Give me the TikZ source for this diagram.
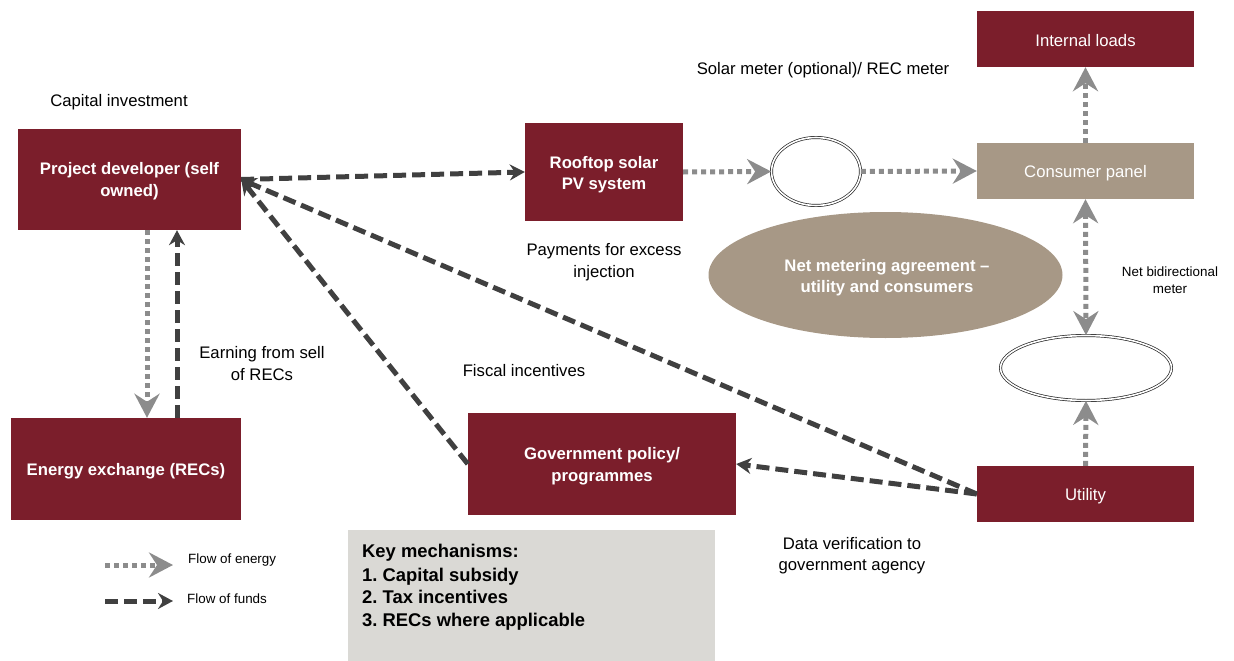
\documentclass[tikz,border=0pt]{standalone}
\usepackage{fontspec}
\setmainfont{Liberation Sans}
\usetikzlibrary{arrows.meta,shapes.geometric,calc}
\definecolor{boxred}{RGB}{123,30,43}
\definecolor{mytan}{RGB}{167,152,134}
\definecolor{keygray}{RGB}{218,217,213}
\definecolor{fundscol}{RGB}{64,64,64}
\definecolor{energycol}{RGB}{140,140,140}
\frenchspacing
\begin{document}
\begin{tikzpicture}[x=1pt,y=-1pt,
  etip/.tip={Stealth[length=24pt,width=25pt,inset=8pt]},
  ftip/.tip={Stealth[length=15pt,width=16pt,inset=5pt]},
  lbl/.style={font=\fontsize{16.7}{21.5}\selectfont, align=center, inner sep=0pt, yshift=-1.5pt},
  smalllbl/.style={font=\fontsize{13.4}{17}\selectfont, align=center, inner sep=0pt},
  box/.style={fill=boxred, text=white, inner sep=0pt, align=center, font=\fontsize{16.7}{21.5}\selectfont, text height=21.5pt, text depth=0pt},
  bbox/.style={box, font=\bfseries\fontsize{16.7}{21.5}\selectfont},
  panel/.style={box, fill=mytan},
  meter/.style={ellipse, draw=black!85, double=white, double distance=1.6pt, line width=0.7pt, inner sep=0pt},
  fundsline/.style={draw=fundscol, line width=5pt, dash pattern=on 13pt off 6pt, -ftip},
  energyline/.style={draw=energycol, line width=5pt, dash pattern=on 5pt off 4pt, -etip},
  keytxt/.style={font=\bfseries\fontsize{18.4}{23}\selectfont, anchor=base west, inner sep=0pt}
]
\useasboundingbox (0,0) rectangle (1234,661);

% boxes
\node[fill=boxred, minimum width=223, minimum height=101, inner sep=0pt] (pd) at (129.5,179.5) {};
\node[fill=boxred, minimum width=158, minimum height=98, inner sep=0pt] (roof) at (604,172) {};
\node[fill=boxred, minimum width=217, minimum height=56, inner sep=0pt] (il) at (1085.5,39) {};
\node[fill=mytan, minimum width=217, minimum height=56, inner sep=0pt] (cp) at (1085.5,171) {};
\node[fill=boxred, minimum width=217, minimum height=56, inner sep=0pt] (ut) at (1085.5,494) {};
\node[fill=boxred, minimum width=268, minimum height=102, inner sep=0pt] (gov) at (602,464) {};
\node[fill=boxred, minimum width=230, minimum height=102, inner sep=0pt] (ex) at (126,469) {};

% box texts
\tikzset{boxtxt/.style={text=white, align=center, inner sep=0pt, font=\fontsize{16.7}{21.5}\selectfont},
         bboxtxt/.style={boxtxt, font=\bfseries\fontsize{16.7}{21.5}\selectfont}}
\node[bboxtxt] (pdt) at ($(pd.center)+(0,1.5)$) {Project developer (self\\owned)};
\node[bboxtxt] (rooft) at ($(roof.center)+(0,2.5)$) {Rooftop solar\\PV system};
\node[boxtxt] (ilt) at ($(il.center)+(0,2)$) {Internal loads};
\node[boxtxt] (cpt) at ($(cp.center)+(0,2.5)$) {Consumer panel};
\node[boxtxt] (utt) at ($(ut.center)+(0,2)$) {Utility};
\node[bboxtxt] (govt) at ($(gov.center)+(0,2)$) {Government policy/\\programmes};
\node[bboxtxt] (ext) at ($(ex.center)+(0,2.5)$) {Energy exchange (RECs)};

% ellipses
\node[meter, minimum width=89, minimum height=68] (m1) at (816,171.5) {};
\node[meter, minimum width=171, minimum height=65] (m2) at (1086,368) {};
\node[ellipse, fill=mytan, inner sep=0pt, minimum width=354, minimum height=126] (nm) at (885.5,275) {};
\node[bboxtxt] (nmt) at ($(nm.center)+(1.5,2.5)$) {Net metering agreement --\\utility and consumers};

% key box
\node[fill=keygray, minimum width=367, minimum height=131, anchor=north west, inner sep=0pt] (keybox) at (348,530) {};
\node[keytxt] (key1) at (362,557) {Key mechanisms:};
\node[keytxt] (key2) at (362,581) {1. Capital subsidy};
\node[keytxt] (key3) at (362,603) {2. Tax incentives};
\node[keytxt] (key4) at (362,626) {3. RECs where applicable};

% labels
\node[lbl] (capinv) at (119,101) {Capital investment};
\node[lbl] (solarm) at (823,69) {Solar meter (optional)/ REC meter};
\node[lbl] (payex) at (604,260.5) {Payments for excess\\injection};
\node[smalllbl] (netbi) at (1170,280) {Net bidirectional\\meter};
\node[lbl] (earn) at (262,362) {Earning from sell\\of RECs};
\node[lbl] (fiscal) at (524,369) {Fiscal incentives};
\node[lbl] (dataver) at (852,554) {Data verification to\\government agency};

% connectors
\draw[fundsline] (pd.east) -- (roof.west);
\draw[energyline] (roof.east) -- (m1.west);
\draw[energyline] (m1.east) -- (cp.west);
\draw[energyline] (cp.north) -- (il.south);
\draw[energyline, etip-etip] (cp.south) -- (m2.north);
\draw[energyline] (ut.north) -- (m2.south);
\draw[fundsline] (ut.west) -- (gov.east);
\draw[fundsline] (ut.west) -- (pd.east);
\draw[fundsline] (gov.west) -- (pd.east);
\draw[energyline] ([xshift=17.5pt]pd.south) -- ([xshift=17.5pt]pd.south |- ex.north);
\draw[fundsline] ([xshift=47.5pt]pd.south |- ex.north) -- ([xshift=47.5pt]pd.south);

% legend
\coordinate (le1) at (105,565);
\coordinate (le2) at (173,565);
\coordinate (lf1) at (105,601);
\coordinate (lf2) at (173,601);
\draw[energyline] (le1) -- (le2);
\draw[fundsline] (lf1) -- (lf2);
\node[smalllbl, anchor=west] (legE) at (188,560) {Flow of energy};
\node[smalllbl, anchor=west] (legF) at (187,599) {Flow of funds};
\end{tikzpicture}
\end{document}
